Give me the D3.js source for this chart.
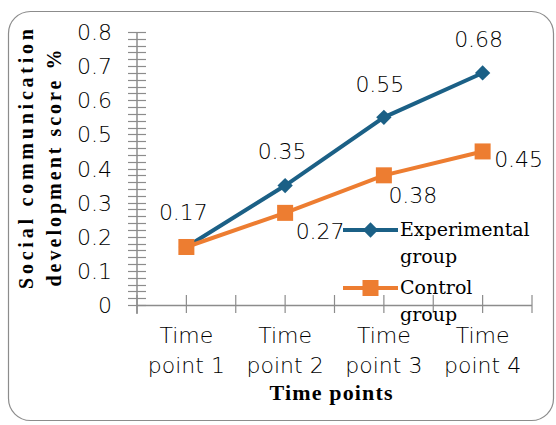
<!DOCTYPE html>
<html>
<head>
<meta charset="utf-8">
<script src="https://cdn.jsdelivr.net/npm/d3@7"></script>
<style>
  body { margin: 0; background: #fff; }
  svg text { fill: #000; }
</style>
</head>
<body>
<div id="chart"></div>
<script>
// chart data
var categories = ["Time point 1", "Time point 2", "Time point 3", "Time point 4"];
var experimental = [0.17, 0.35, 0.55, 0.68];
var control = [0.17, 0.27, 0.38, 0.45];
var yTicks = [0, 0.1, 0.2, 0.3, 0.4, 0.5, 0.6, 0.7, 0.8];
var seriesNames = ["Experimental group", "Control group"];

var width = 556, height = 425;
var blue = "#1b6086", orange = "#ed7d31";
var sans = "'DejaVu Sans', Verdana, sans-serif";
var serif = "'Liberation Serif', 'Times New Roman', serif";
var legSerif = "'DejaVu Serif', serif";

var svg = d3.select("#chart").append("svg")
    .attr("width", width)
    .attr("height", height);

// rounded frame
svg.append("rect")
    .attr("x", 8.5).attr("y", 11.5)
    .attr("width", 545).attr("height", 409)
    .attr("rx", 22)
    .attr("fill", "white")
    .attr("stroke", "#8c8c8c")
    .attr("stroke-width", 1.2);

var x0 = 137, x1 = 532, yTop = 32, yBot = 305;

var x = d3.scaleBand().domain(categories).range([x0, x1]);
var y = d3.scaleLinear().domain([0, 0.8]).range([yBot, yTop]);
function cx(i) { return x(categories[i]) + x.bandwidth() / 2; }

// y axis with minor ticks crossing the line
var minor = d3.range(0, 0.8001, 0.02);
svg.append("g").selectAll("line")
    .data(minor).enter().append("line")
    .attr("x1", x0 - 9).attr("x2", x0 + 9)
    .attr("y1", function (d) { return Math.round(y(d)) + 0.5; })
    .attr("y2", function (d) { return Math.round(y(d)) + 0.5; })
    .attr("stroke", "#8c8c8c").attr("stroke-width", 1.2);
svg.append("line")
    .attr("x1", x0).attr("x2", x0)
    .attr("y1", yTop).attr("y2", yBot + 9)
    .attr("stroke", "#8c8c8c").attr("stroke-width", 1.5);

svg.append("g").selectAll("text")
    .data(yTicks).enter().append("text")
    .attr("x", 112)
    .attr("y", function (d) { return y(d) + 8; })
    .attr("text-anchor", "end")
    .style("font-family", sans).style("font-size", "22px").style("font-weight", 200)
    .text(function (d) { return d3.format("")(d); });

// x axis with ticks at band edges and centres
var xt = [];
categories.forEach(function (c) { xt.push(x(c)); xt.push(x(c) + x.bandwidth() / 2); });
xt.push(x1);
svg.append("line")
    .attr("x1", x0).attr("x2", x1)
    .attr("y1", yBot + 0.5).attr("y2", yBot + 0.5)
    .attr("stroke", "#8c8c8c").attr("stroke-width", 1.5);
svg.append("g").selectAll("line")
    .data(xt).enter().append("line")
    .attr("x1", function (d) { return d; }).attr("x2", function (d) { return d; })
    .attr("y1", yBot - 10).attr("y2", yBot + 8)
    .attr("stroke", "#8c8c8c").attr("stroke-width", 1.2);

var xl = svg.append("g").selectAll("text")
    .data(categories).enter().append("text")
    .attr("x", function (d, i) { return cx(i); })
    .attr("y", 343)
    .attr("text-anchor", "middle")
    .style("font-family", sans).style("font-size", "22px").style("font-weight", 200);
xl.append("tspan")
    .attr("x", function (d, i) { return cx(i); })
    .text("Time");
xl.append("tspan")
    .attr("x", function (d, i) { return cx(i); })
    .attr("dy", 30)
    .text(function (d) { return d.replace("Time ", ""); });

// axis titles
svg.append("text")
    .attr("x", 331).attr("y", 400)
    .attr("text-anchor", "middle")
    .style("font-family", serif).style("font-size", "22px").style("font-weight", "bold")
    .attr("textLength", 123).attr("lengthAdjust", "spacing")
    .text("Time points");

var yt = svg.append("g");
yt.append("text")
    .attr("transform", "translate(33,159) rotate(-90)")
    .attr("text-anchor", "middle")
    .style("font-family", serif).style("font-size", "20px").style("font-weight", "bold")
    .attr("textLength", 260).attr("lengthAdjust", "spacing")
    .text("Social communication");
yt.append("text")
    .attr("transform", "translate(61,168) rotate(-90)")
    .attr("text-anchor", "middle")
    .style("font-family", serif).style("font-size", "20px").style("font-weight", "bold")
    .attr("textLength", 237).attr("lengthAdjust", "spacing")
    .text("development score %");

// lines
var line = d3.line()
    .x(function (d, i) { return cx(i); })
    .y(function (d) { return y(d); });

svg.append("path").datum(experimental)
    .attr("d", line).attr("fill", "none")
    .attr("stroke", blue).attr("stroke-width", 4);
svg.append("path").datum(control)
    .attr("d", line).attr("fill", "none")
    .attr("stroke", orange).attr("stroke-width", 4);

var diamond = d3.symbol().type(d3.symbolDiamond2).size(150);
svg.append("g").selectAll("path")
    .data(experimental).enter().append("path")
    .attr("d", diamond)
    .attr("transform", function (d, i) { return "translate(" + cx(i) + "," + y(d) + ")"; })
    .attr("fill", blue);

svg.append("g").selectAll("rect")
    .data(control).enter().append("rect")
    .attr("x", function (d, i) { return cx(i) - 8; })
    .attr("y", function (d) { return y(d) - 8; })
    .attr("width", 16).attr("height", 16)
    .attr("fill", orange);

// data labels (offsets from the marker, label baseline)
var expOff = [[-3, -27], [-3, -27], [-4, -25], [-4, -26]];
var ctlOff = [[35, 26], [29, 28], [36, 16]];
svg.append("g").selectAll("text")
    .data(experimental).enter().append("text")
    .attr("x", function (d, i) { return cx(i) + expOff[i][0]; })
    .attr("y", function (d, i) { return y(d) + expOff[i][1]; })
    .attr("text-anchor", "middle")
    .style("font-family", sans).style("font-size", "22px").style("font-weight", 200)
    .text(function (d) { return d3.format(".2f")(d); });
// first control point shares the experimental label
svg.append("g").selectAll("text")
    .data(control.slice(1)).enter().append("text")
    .attr("x", function (d, i) { return cx(i + 1) + ctlOff[i][0]; })
    .attr("y", function (d, i) { return y(d) + ctlOff[i][1]; })
    .attr("text-anchor", "middle")
    .style("font-family", sans).style("font-size", "22px").style("font-weight", 200)
    .text(function (d) { return d3.format(".2f")(d); });

// legend
var leg = svg.append("g").attr("transform", "translate(343,0)");
var legY = [230, 288];
var legCol = [blue, orange];
seriesNames.forEach(function (name, i) {
    leg.append("line")
        .attr("x1", 0).attr("x2", 55)
        .attr("y1", legY[i]).attr("y2", legY[i])
        .attr("stroke", legCol[i]).attr("stroke-width", 4);
    if (i === 0) {
        leg.append("path").attr("d", diamond)
            .attr("transform", "translate(27.5," + legY[i] + ")")
            .attr("fill", blue);
    } else {
        leg.append("rect")
            .attr("x", 19.5).attr("y", legY[i] - 8)
            .attr("width", 16).attr("height", 16)
            .attr("fill", orange);
    }
    var parts = name.split(" ");
    var t = leg.append("g")
        .style("font-family", legSerif).style("font-size", "19px");
    t.append("text").attr("x", 57).attr("y", legY[i] + 6).text(parts[0]);
    t.append("text").attr("x", 57).attr("y", legY[i] + 33).text(parts[1]);
});
</script>
</body>
</html>
